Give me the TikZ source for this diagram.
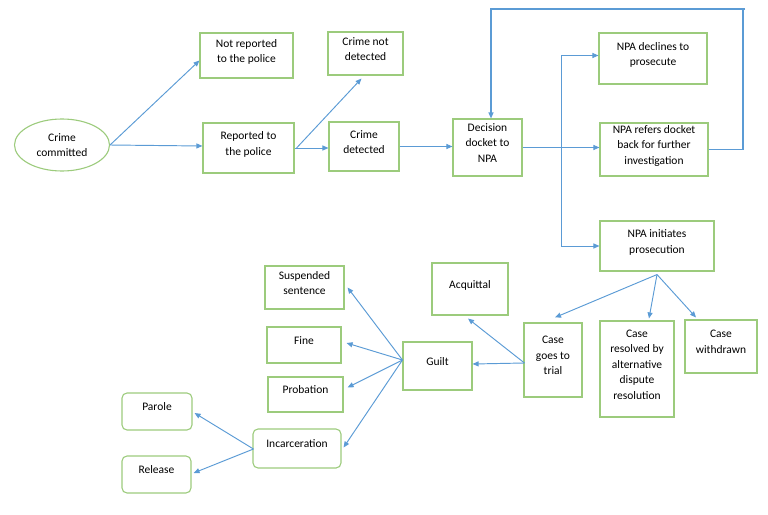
\documentclass[tikz,border=0pt]{standalone}
\usepackage{fontspec}
\setmainfont{Carlito}
\usetikzlibrary{arrows.meta,shapes.geometric,calc}
\definecolor{boxgreen}{HTML}{9CCB7C}
\definecolor{arrblue}{HTML}{5B9BD5}
\tikzset{
  box/.style={draw=boxgreen, line width=1.1pt, align=center, inner sep=0pt,
    font=\fontsize{11.5}{15.5}\selectfont,
    execute at end node={\rule[-9pt]{0pt}{1pt}}},
  rbox/.style={box, rounded corners=5pt},
  arr/.style={draw=arrblue, line width=0.95pt, -{Triangle[width=5pt,length=6pt]}},
  ln/.style={draw=arrblue, line width=1.1pt}
}
\begin{document}
\begin{tikzpicture}[x=1pt,y=-1pt]
\useasboundingbox (0,0) rectangle (768,514);
% nodes
\node[ellipse, draw=boxgreen, line width=1.1pt, align=center, inner sep=0pt,
  font=\fontsize{11.5}{15.5}\selectfont, minimum width=95pt, minimum height=52pt]
  (cc) at (62,145) {Crime\\committed};
\node[box, minimum width=93pt, minimum height=45pt] (np) at (246.5,55.5) {Not reported\\to the police};
\node[box, minimum width=91pt, minimum height=50pt] (rep) at (248.5,148) {Reported to\\the police};
\node[box, minimum width=75pt, minimum height=43pt] (nd) at (365.5,53.5) {Crime not\\detected};
\node[box, minimum width=70pt, minimum height=49pt] (det) at (364,146.5) {Crime\\detected};
\node[box, minimum width=69pt, minimum height=57pt] (dec) at (487.5,147.5) {Decision\\docket to\\NPA};
\node[box, minimum width=108pt, minimum height=51pt] (decl) at (653,58.5) {NPA declines to\\prosecute};
\node[box, minimum width=108pt, minimum height=53pt] (ref) at (654,149.5) {NPA refers docket\\back for further\\investigation};
\node[box, minimum width=114pt, minimum height=50pt] (init) at (657,246) {NPA initiates\\prosecution};
\node[box, minimum width=76pt, minimum height=52pt] (acq) at (470,289) {Acquittal};
\node[box, minimum width=58pt, minimum height=74pt] (tr) at (553,360) {Case\\goes to\\trial};
\node[box, minimum width=74pt, minimum height=96pt] (res) at (637,369) {Case\\resolved by\\alternative\\dispute\\resolution};
\node[box, minimum width=72pt, minimum height=53pt] (wd) at (721,346.5) {Case\\withdrawn};
\node[box, minimum width=69pt, minimum height=48pt] (gu) at (437.5,366) {Guilt};
\node[box, minimum width=79pt, minimum height=43pt] (sus) at (304.5,287.5) {Suspended\\sentence};
\node[box, minimum width=74pt, minimum height=36pt] (fine) at (304,345) {Fine};
\node[box, minimum width=75pt, minimum height=35pt] (prob) at (305.5,394.5) {Probation};
\node[rbox, minimum width=70pt, minimum height=37pt] (par) at (157,411.5) {Parole};
\node[rbox, minimum width=88pt, minimum height=39pt] (inc) at (297,448.5) {Incarceration};
\node[rbox, minimum width=69pt, minimum height=37pt] (rel) at (156.5,474.5) {Release};
% helper coordinates
\coordinate (bx) at (561,0);
\coordinate (lt) at (743,9);
% connectors
\draw[arr] (cc.east) -- ($(np.west)+(0,5)$);
\draw[arr] (cc.east) -- ($(rep.west)+(0,-2)$);
\draw[arr] (rep.east) -- (rep.east -| det.west);
\draw[arr] ($(rep.east)+(2,0)$) -- ($(nd.south west)+(34,3)$);
\draw[arr] (det.east) -- (det.east -| dec.west);
\draw[arr] (dec.east) -- (dec.east -| ref.west);
\draw[arr] (bx |- dec.east) -- ($(bx |- decl.west)+(0,-3)$) -- ($(decl.west)+(0,-3)$);
\draw[arr] (bx |- dec.east) -- (bx |- init.west) -- (init.west);
\draw[ln] ($(lt)+(2,0)$) -- (lt);
\draw[arr, line width=1.1pt] (ref.east) -- (ref.east -| lt) -- (lt) -| ($(dec.north)+(3.5,0)$);
\coordinate (is) at ($(init.south)+(0,3)$);
\draw[arr] (is) -- ($(tr.north)+(2,-5)$);
\draw[arr] (is) -- ($(res.north)+(12,-2)$);
\draw[arr] (is) -- ($(wd.north)+(-25,-2)$);
\coordinate (tw) at ($(tr.west)+(1,3)$);
\draw[arr] (tw) -- ($(gu.east)+(0,-2)$);
\draw[arr] (tw) -- ($(acq.south)+(-2,3)$);
\coordinate (gw) at ($(gu.west)+(0,-6)$);
\draw[arr] (gw) -- ($(sus.east)+(3,0)$);
\draw[arr] (gw) -- ($(fine.east)+(5,-2)$);
\draw[arr] (gw) -- ($(prob.east)+(4,-7)$);
\draw[arr] (gw) -- ($(inc.east)+(2,-1)$);
\coordinate (iw) at ($(inc.west)+(1,0.5)$);
\draw[arr] (iw) -- ($(par.east)+(2,1.5)$);
\draw[arr] (iw) -- ($(rel.east)+(2,-1.5)$);
\end{tikzpicture}
\end{document}
